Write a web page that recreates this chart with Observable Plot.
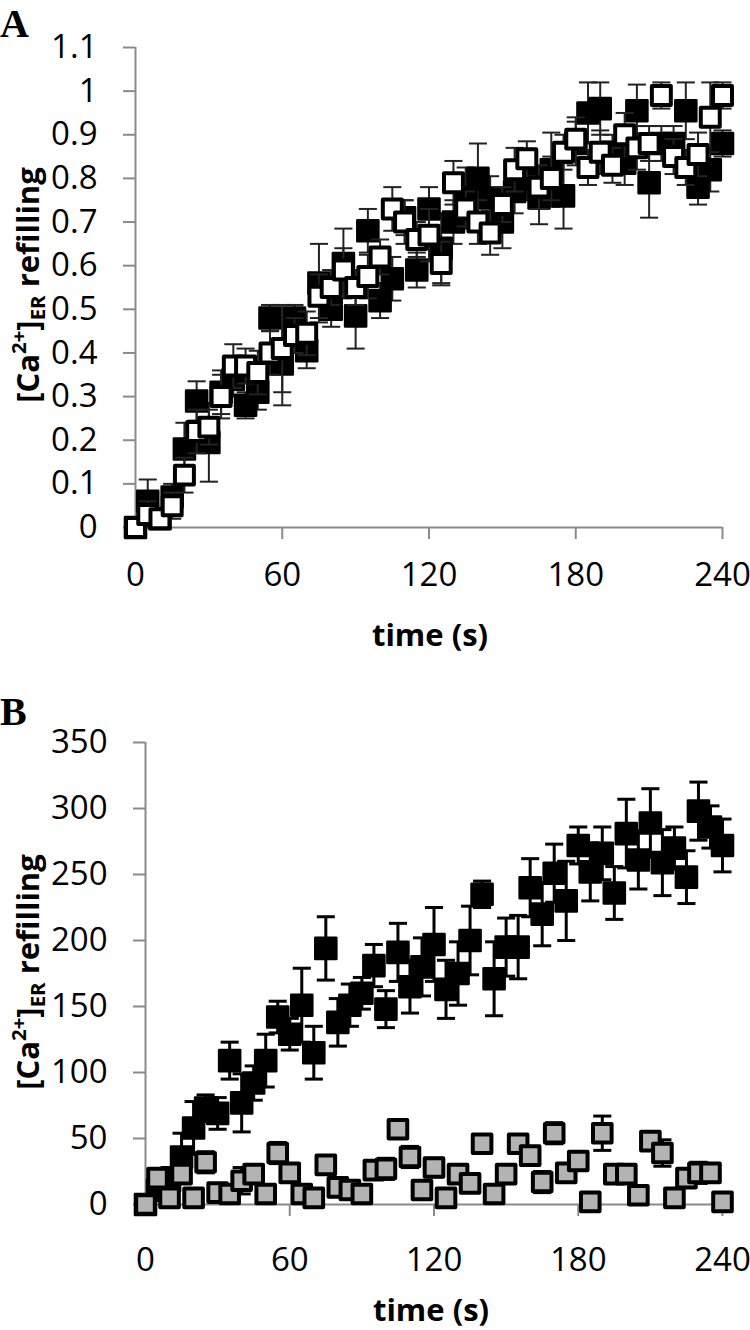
<!DOCTYPE html>
<html><head><meta charset="utf-8">
<script src="https://cdn.jsdelivr.net/npm/d3@7"></script>
<script src="https://cdn.jsdelivr.net/npm/@observablehq/plot@0.6"></script>
<style>
html,body{margin:0;padding:0;background:#fff;overflow:hidden;}
#wrap{position:relative;width:750px;height:1330px;overflow:hidden;background:#fff;font-family:"Open Sans",sans-serif;color:#000;}
.abs{position:absolute;white-space:nowrap;line-height:1;}
.ylab{font-weight:bold;font-size:31px;transform:translate(-50%,-50%) rotate(-90deg);}
.xlab{font-weight:bold;font-size:31px;transform:translate(-50%,-50%);}
.panel{font-family:"Liberation Serif","Times New Roman",serif;font-weight:bold;}
sup,sub{font-size:0.66em;line-height:0;}
sup{vertical-align:0.62em;}
sub{vertical-align:-0.3em;}
svg{position:absolute;left:0;}
</style></head>
<body><div id="wrap"></div>
<script>
// ---- data ----
const time = [0,5,10,15,20,25,30,35,40,45,50,55,60,65,70,75,80,85,90,95,100,105,110,115,120,125,130,135,140,145,150,155,160,165,170,175,180,185,190,195,200,205,210,215,220,225,230,235,240];

// Panel A: filled squares
const aFilled = [0,0.06,0.02,0.07,0.18,0.29,0.195,0.31,0.34,0.28,0.31,0.48,0.375,0.48,0.405,0.56,0.50,0.605,0.485,0.68,0.52,0.57,0.71,0.59,0.73,0.64,0.70,0.755,0.80,0.755,0.70,0.77,0.80,0.755,0.82,0.76,0.88,0.95,0.96,0.86,0.835,0.955,0.79,0.88,0.88,0.955,0.78,0.82,0.88];
const aFilledErr = [0,0.05,0.02,0.03,0.06,0.045,0.09,0.05,0.04,0.03,0.04,0.03,0.095,0.03,0.04,0.09,0.04,0.08,0.075,0.05,0.04,0.05,0.04,0.04,0.05,0.08,0.05,0.07,0.08,0.05,0.06,0.05,0.05,0.06,0.085,0.075,0.05,0.07,0.06,0.04,0.05,0.06,0.08,0.04,0.04,0.065,0.04,0.05,0.03];
// Panel A: open squares
const aOpen = [0,0.03,0.02,0.05,0.12,0.22,0.23,0.30,0.37,0.37,0.355,0.40,0.41,0.44,0.445,0.53,0.55,0.59,0.55,0.575,0.62,0.73,0.70,0.66,0.67,0.605,0.79,0.73,0.70,0.675,0.74,0.82,0.845,0.78,0.80,0.86,0.89,0.825,0.86,0.83,0.90,0.87,0.88,0.99,0.85,0.825,0.855,0.94,0.99];
const aOpenErr = [0,0.03,0.02,0.03,0.04,0.05,0.04,0.05,0.05,0.04,0.05,0.05,0.1,0.04,0.05,0.05,0.04,0.05,0.04,0.05,0.04,0.05,0.05,0.04,0.06,0.05,0.05,0.04,0.05,0.05,0.04,0.05,0.04,0.05,0.05,0.04,0.05,0.04,0.05,0.04,0.05,0.05,0.04,0.03,0.04,0.04,0.05,0.08,0.03];

// Panel B: black squares
const bBlack = [0,11,18,36,58,73,69,109,77,92,109,142,129,151,115,194,138,151,160,181,148,191,165,180,197,163,175,200,235,171,195,195,240,220,251,230,272,252,266,236,281,261,289,259,270,248,298,286,272];
const bBlackErr = [0,8,10,18,20,10,12,14,22,13,20,12,12,28,20,24,18,16,12,16,14,22,20,22,28,22,24,26,10,28,22,24,22,24,22,30,14,22,20,20,26,22,26,25,16,20,22,16,20];
// Panel B: gray squares
const bGray = [0,20,5,23,5,32,9,8,18,23,8,39,24,8,5,30,13,11,8,26,27,57,36,11,28,5,23,16,46,8,23,46,37,17,54,24,33,2,54,23,23,7,48,39,5,20,24,24,2];
const bGrayErr = [0,6,4,5,4,8,6,5,10,6,4,8,6,5,4,7,6,5,4,6,8,5,8,4,7,4,6,5,4,5,6,4,5,8,8,6,6,4,13,5,6,4,5,10,4,6,8,5,4];

const xTicks = [0,60,120,180,240];
const aYTicks = [0,0.1,0.2,0.3,0.4,0.5,0.6,0.7,0.8,0.9,1,1.1];
const bYTicks = [0,50,100,150,200,250,300,350];

// ---- helpers ----
const rows = (vals, errs) => time.map((t, i) => ({t, v: vals[i], e: errs[i]}));
const cap = {draw(ctx, size) { const w = Math.sqrt(size) / 2; ctx.moveTo(-w, 0); ctx.lineTo(w, 0); }};
const axisGray = "#8a8a8a";

function series(data, o) {
  const withErr = data.filter(d => d.e > 0);
  return [
    Plot.ruleX(withErr, {x: "t", y1: d => d.v - d.e, y2: d => d.v + d.e, stroke: o.bar, strokeWidth: o.barW}),
    Plot.dot(withErr, {x: "t", y: d => d.v + d.e, symbol: cap, r: 10.2, fill: "none", stroke: o.bar, strokeWidth: o.barW}),
    Plot.dot(withErr, {x: "t", y: d => d.v - d.e, symbol: cap, r: 10.2, fill: "none", stroke: o.bar, strokeWidth: o.barW}),
    Plot.dot(data, {x: "t", y: "v", symbol: "square", r: o.r, fill: o.fill, stroke: "#000", strokeWidth: o.sw, strokeLinejoin: "round"})
  ];
}

function axes(yTicks, fmt, xPad) {
  return [
    Plot.ruleX([0], {stroke: axisGray, strokeWidth: 2}),
    Plot.ruleY([0], {stroke: axisGray, strokeWidth: 2}),
    Plot.axisY({ticks: yTicks, tickSize: 12, tickPadding: 26, stroke: axisGray, strokeWidth: 2, fill: "#000", fontSize: 33, tickFormat: fmt, label: null}),
    Plot.axisX({ticks: xTicks, tickSize: 12, tickPadding: xPad, stroke: axisGray, strokeWidth: 2, fill: "#000", fontSize: 33, label: null})
  ];
}

const style = {fontFamily: "'Open Sans', sans-serif", fontSize: "33px", background: "white", overflow: "visible", color: "#000"};

const plotA = Plot.plot({
  width: 750, height: 660,
  marginTop: 47, marginBottom: 133, marginLeft: 135, marginRight: 28,
  x: {domain: [0, 240]},
  y: {domain: [0, 1.1]},
  style,
  marks: [
    ...axes(aYTicks, d => String(+d.toFixed(1)), 23),
    ...series(rows(aFilled, aFilledErr), {fill: "#000", sw: 2.5, r: 11.9, bar: "#222", barW: 2}),
    ...series(rows(aOpen, aOpenErr), {fill: "#fff", sw: 4, r: 10.7, bar: "#222", barW: 2})
  ]
});

const plotB = Plot.plot({
  width: 750, height: 630,
  marginTop: 42, marginBottom: 126, marginLeft: 145, marginRight: 28,
  x: {domain: [0, 240]},
  y: {domain: [0, 350]},
  style,
  marks: [
    ...axes(bYTicks, d => String(d), 31),
    ...series(rows(bBlack, bBlackErr), {fill: "#000", sw: 2.5, r: 11.9, bar: "#000", barW: 3}),
    ...series(rows(bGray, bGrayErr), {fill: "#b3b3b3", sw: 4, r: 10.5, bar: "#000", barW: 3})
  ]
});

const wrap = document.getElementById("wrap");
plotA.style.top = "0px";
plotB.style.top = "700px";
wrap.appendChild(plotA);
wrap.appendChild(plotB);

function addDiv(cls, html, left, top, extra) {
  const d = document.createElement("div");
  d.className = "abs " + cls;
  d.innerHTML = html;
  d.style.left = left + "px";
  d.style.top = top + "px";
  if (extra) Object.assign(d.style, extra);
  wrap.appendChild(d);
}
const yLabel = "[Ca<sup>2+</sup>]<sub>ER</sub> refilling";
addDiv("panel", "A", 0, 4, {fontSize: "40px"});
addDiv("panel", "B", 0, 692, {fontSize: "40px"});
addDiv("ylab", yLabel, 27, 285);
addDiv("ylab", yLabel, 27, 972);
addDiv("xlab", "time (s)", 430, 634);
addDiv("xlab", "time (s)", 431, 1309);
</script>
</body></html>
